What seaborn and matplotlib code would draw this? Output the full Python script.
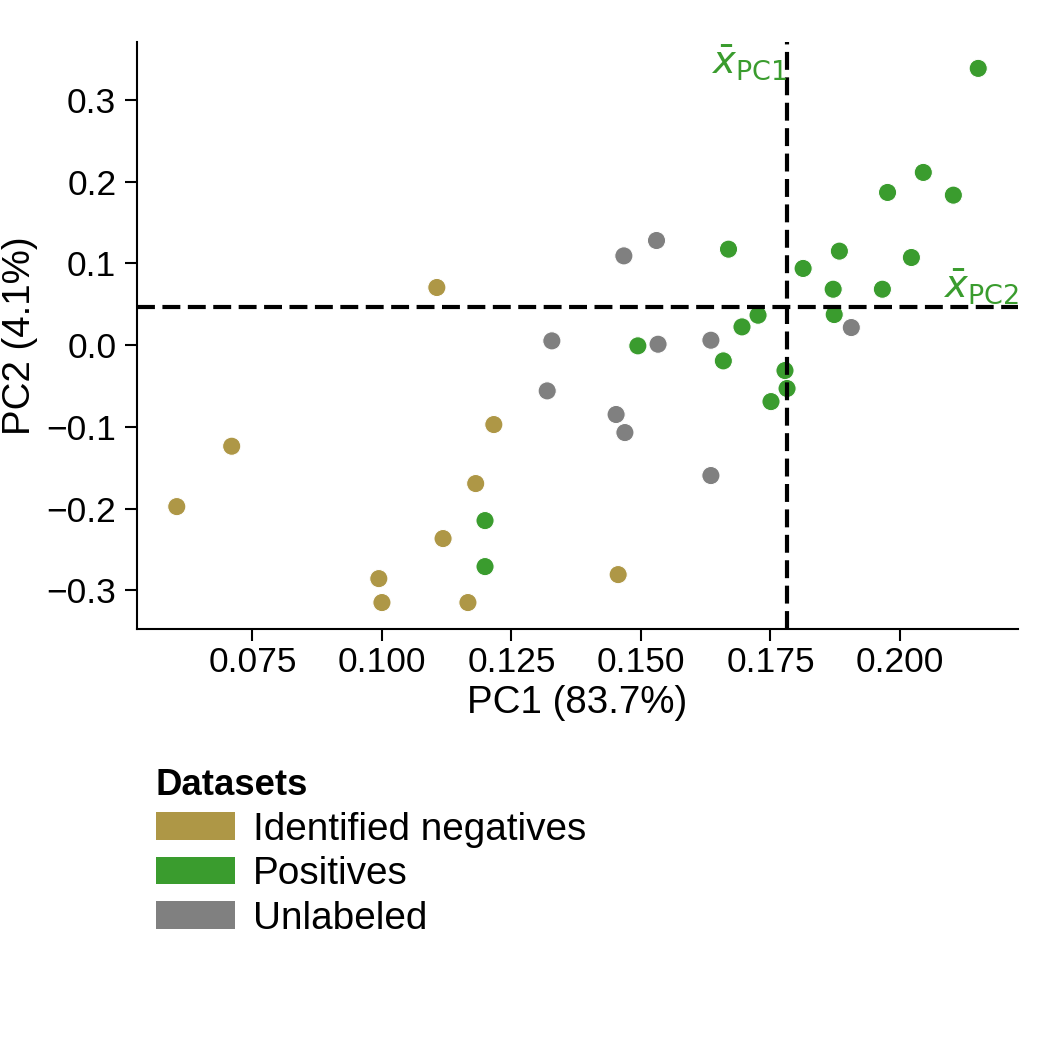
import numpy as np
import pandas as pd
import matplotlib
matplotlib.use("Agg")
import matplotlib.pyplot as plt
from matplotlib.patches import Patch
import seaborn as sns

# ---- data ----
neg_pc1 = [0.1106, 0.1216, 0.1181, 0.1118, 0.1456, 0.1166, 0.0710, 0.0604, 0.0994, 0.1000]
neg_pc2 = [0.0706, -0.0971, -0.1693, -0.2366, -0.2807, -0.3149, -0.1236, -0.1975, -0.2856, -0.3149]

unl_pc1 = [0.1467, 0.1530, 0.1906, 0.1328, 0.1533, 0.1635, 0.1319, 0.1452, 0.1469, 0.1635]
unl_pc2 = [0.1093, 0.1281, 0.0216, 0.0053, 0.0012, 0.0061, -0.0559, -0.0848, -0.1069, -0.1595]

pos_pc1 = [0.1669, 0.2151, 0.2045, 0.1976, 0.2103, 0.1883, 0.2022, 0.1813, 0.1871, 0.1966,
           0.1873, 0.1726, 0.1695, 0.1494, 0.1659, 0.1199, 0.1199, 0.1778, 0.1782, 0.1751]
pos_pc2 = [0.1175, 0.3387, 0.2114, 0.1869, 0.1836, 0.1151, 0.1073, 0.0939, 0.0685, 0.0685,
           0.0375, 0.0367, 0.0224, -0.0008, -0.0192, -0.2146, -0.2709, -0.0310, -0.0530, -0.0690]

categories = ["Identified negatives", "Positives", "Unlabeled"]
colors = ["#ae9746", "#3a9c2e", "#808080"]
x_label = "PC1 (83.7%)"
y_label = "PC2 (4.1%)"
legend_title = "Datasets"
xticks = [0.075, 0.100, 0.125, 0.150, 0.175, 0.200]
xtick_labels = ["0.075", "0.100", "0.125", "0.150", "0.175", "0.200"]
yticks = [-0.3, -0.2, -0.1, 0.0, 0.1, 0.2, 0.3]
ytick_labels = ["\u22120.3", "\u22120.2", "\u22120.1", "0.0", "0.1", "0.2", "0.3"]

df = pd.DataFrame({
    "PC1": neg_pc1 + pos_pc1 + unl_pc1,
    "PC2": neg_pc2 + pos_pc2 + unl_pc2,
    "Dataset": [categories[0]] * len(neg_pc1) + [categories[1]] * len(pos_pc1)
               + [categories[2]] * len(unl_pc1),
})
palette = dict(zip(categories, colors))

sns.set_theme(style="ticks")
plt.rcParams["font.family"] = ["Liberation Sans", "DejaVu Sans"]
plt.rcParams["mathtext.fontset"] = "dejavusans"
plt.rcParams["text.color"] = "black"
plt.rcParams["axes.labelcolor"] = "black"
plt.rcParams["xtick.color"] = "black"
plt.rcParams["ytick.color"] = "black"

fig = plt.figure(figsize=(7, 7), dpi=150)
ax = fig.add_axes([0.1302, 0.4007, 0.8396, 0.5596])

sns.scatterplot(data=df, x="PC1", y="PC2", hue="Dataset", palette=palette,
                hue_order=categories, s=76, edgecolor="white", linewidth=0.5,
                legend=False, ax=ax, zorder=2)

mean_x = float(np.mean(pos_pc1))
mean_y = float(np.mean(pos_pc2))

ax.margins(0.05)
xlim = ax.get_xlim()
ylim = ax.get_ylim()
ax.axvline(mean_x, color="black", lw=2, ls=(0, (4.3, 1.8)), zorder=3)
ax.axhline(mean_y, color="black", lw=2, ls=(0, (4.3, 1.8)), zorder=3)
ax.set_xlim(xlim)
ax.set_ylim(ylim)

ax.text(mean_x, ylim[1] - 0.002, r"$\bar{x}_{\mathrm{PC1}}$", color=colors[1],
        ha="right", va="top", fontsize=18.5)
ax.text(xlim[1], mean_y + 0.001, r"$\bar{x}_{\mathrm{PC2}}$", color=colors[1],
        ha="right", va="bottom", fontsize=18.5)

ax.set_xticks(xticks)
ax.set_yticks(yticks)
ax.set_xticklabels(xtick_labels)
ax.set_yticklabels(ytick_labels)
ax.tick_params(axis="both", labelsize=17, length=5.8, width=1, color="black")
ax.tick_params(axis="x", pad=2)
ax.tick_params(axis="y", pad=4)
ax.set_xlabel(x_label, fontsize=18.5, labelpad=3)
ax.set_ylabel(y_label, fontsize=18.5, labelpad=4)
sns.despine(ax=ax)
for sp in ["left", "bottom"]:
    ax.spines[sp].set_linewidth(1.0)
    ax.spines[sp].set_color("black")

handles = [Patch(facecolor=c, edgecolor="none", label=l) for c, l in zip(colors, categories)]
leg = fig.legend(handles=handles, title=legend_title, loc="upper left",
                 bbox_to_anchor=(156 / 1050, 1 - 768 / 1050), frameon=False,
                 fontsize=18.6, title_fontproperties={"weight": "bold", "size": 17.5},
                 handlelength=2.05, handleheight=0.7, handletextpad=0.45,
                 labelspacing=0.22, borderpad=0, borderaxespad=0, alignment="left")

fig.savefig("out.png", dpi=150)
